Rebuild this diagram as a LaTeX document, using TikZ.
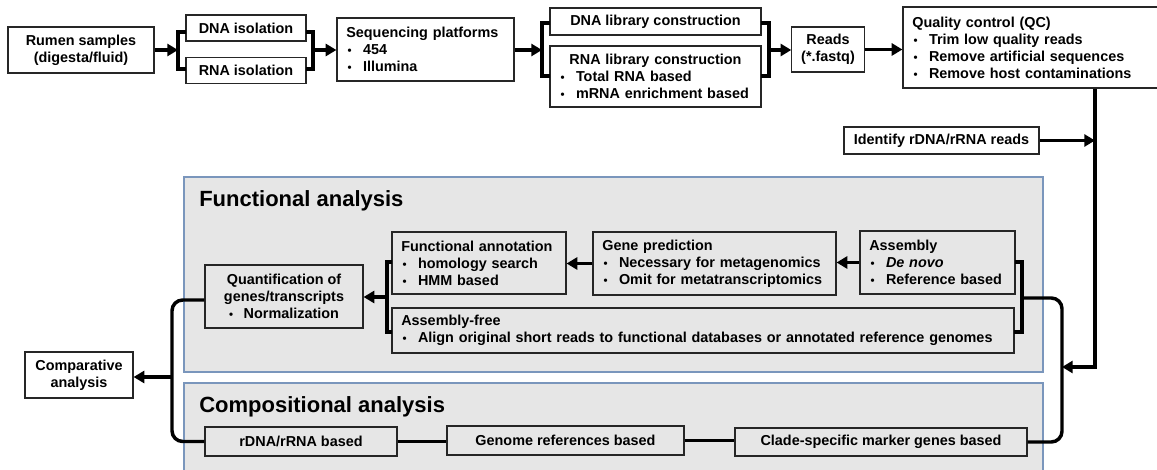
\documentclass[tikz,border=0pt]{standalone}
\usepackage{fontspec}
\setmainfont{Liberation Sans}
\usepackage{xcolor}
\usetikzlibrary{arrows.meta}
\definecolor{panelgray}{RGB}{230,230,230}
\definecolor{panelline}{RGB}{122,150,188}
\newcommand{\itm}{\makebox[12.5pt][l]{\hspace{1pt}\scalebox{0.8}{\textbullet}}}

\begin{document}
\begin{tikzpicture}[x=0.75pt,y=-0.75pt,
    txt/.style={font=\bfseries\fontsize{10.8}{12.8}\selectfont},
    box/.style={txt,draw=black!85,line width=0.9pt,inner xsep=7pt,inner ysep=2pt,align=center},
    lbox/.style={box,align=left,text width=#1},
    panel/.style={draw=panelline,fill=panelgray,line width=0.9pt},
    ptitle/.style={anchor=west,inner sep=0pt,font=\bfseries\fontsize{16.5}{19}\selectfont},
    conn/.style={line width=2.6pt},
    arr/.style={conn,-{Triangle[length=8pt,width=9pt]}},
    brk/.style={line width=2.6pt}]
    \useasboundingbox (0,0) rectangle (1157,470);
    \draw[panel] (184,177) rectangle (1043,372);
    \draw[panel] (184,383) rectangle (1043,480);
    \node[ptitle] (functitle) at (199,201) {Functional analysis};
    \node[ptitle] (comptitle) at (199,407) {Compositional analysis};

    \node[box,minimum width=109.5pt,minimum height=34.5pt] (rumen) at (81,50) {Rumen samples\\(digesta/fluid)};
    \node[box,minimum width=90pt,minimum height=19.5pt] (dnaiso) at (246,28) {DNA isolation};
    \node[box,minimum width=90pt,minimum height=20pt] (rnaiso) at (246,70.5) {RNA isolation};
    \node[lbox=118.75pt,minimum height=47.25pt] (seq) at (425.5,49.5) {Sequencing platforms\\\itm 454\\\itm Illumina};
    \node[box,minimum width=158.25pt,minimum height=20.25pt] (dnalib) at (655.5,21.5) {DNA library construction};
    \node[lbox=144.25pt,minimum height=45.75pt] (rnalib) at (655.5,76.5) {\makebox[\linewidth]{RNA library construction}\\\itm Total RNA based\\\itm mRNA enrichment based};
    \node[box,minimum width=51pt,minimum height=33.75pt] (reads) at (828,49.5) {Reads\\(*.fastq)};
    \node[lbox=186.25pt,minimum height=60.75pt] (qc) at (1036.5,47.5) {Quality control (QC)\\\itm Trim low quality reads\\\itm Remove artificial sequences\\\itm Remove host contaminations};
    \node[box,minimum width=146.25pt,minimum height=20.25pt] (ident) at (941.5,140.5) {Identify rDNA/rRNA reads};

    \node[box,minimum width=118.5pt,minimum height=47.25pt] (quant) at (284,296.5) {Quantification of\\genes/transcripts\\\scalebox{0.8}{\textbullet}\hspace{8pt}Normalization};
    \node[lbox=116.5pt,minimum height=46.5pt] (funcann) at (479,263) {Functional annotation\\\itm homology search\\\itm HMM based};
    \node[lbox=168.25pt,minimum height=47.25pt] (genepred) at (714.5,263.5) {Gene prediction\\\itm Necessary for metagenomics\\\itm Omit for metatranscriptomics};
    \node[lbox=102.25pt,minimum height=47.25pt] (asm) at (937.5,262.5) {Assembly\\\itm\textit{De novo}\\\itm Reference based};
    \node[lbox=452.5pt,minimum height=33.75pt] (asmfree) at (703,330.5) {Assembly-free\\\itm Align original short reads to functional databases or annotated reference genomes};
    \node[box,minimum width=81pt,minimum height=34.5pt] (comp) at (79,375) {Comparative\\analysis};
    \node[box,minimum width=144pt,minimum height=21.75pt] (rdna) at (301,441.5) {rDNA/rRNA based};
    \node[box,minimum width=177.75pt,minimum height=21.75pt] (genome) at (565.5,440.5) {Genome references based};
    \node[box,minimum width=219pt,minimum height=21pt] (clade) at (881,442) {Clade-specific marker genes based};

    \coordinate (B1) at (178,50);
    \coordinate (B2) at (313,50);
    \coordinate (B3) at (542,50);
    \coordinate (B4) at (769,50);
    \coordinate (B5) at (387,297);
    \coordinate (B6) at (1022,298);
    \coordinate (J1) at (1062,367);
    \coordinate (J2) at (1095,367);
    \coordinate (J3) at (1062,298);
    \coordinate (C1) at (172,377);
    \coordinate (C2) at (172,300);

    \draw[brk] (186,32) -- (178,32) -- (178,69) -- (186,69);
    \draw[brk] (306,32) -- (313,32) -- (313,69) -- (306,69);
    \draw[brk] (550,23) -- (542,23) -- (542,76) -- (550,76);
    \draw[brk] (761,23) -- (769,23) -- (769,76) -- (761,76);
    \draw[brk] (392,262) -- (387,262) -- (387,332) -- (392,332);
    \draw[brk] (1015,262) -- (1022,262) -- (1022,332) -- (1014,332);

    \draw[arr] (rumen.east |- B1) -- (B1);
    \draw[arr] (B2) -- (B2 -| seq.west);
    \draw[arr] (seq.east |- B3) -- (B3);
    \draw[arr] (B4) -- (B4 -| reads.west);
    \draw[arr] (reads.east) -- (reads.east -| qc.west);
    \draw[arr] (qc.south -| J2) -- (J2) -- (J1);
    \draw[arr] (ident.east) -- (ident.east -| J2);
    \draw[arr] (asm.west) -- (asm.west -| genepred.east);
    \draw[arr] (genepred.west) -- (genepred.west -| funcann.east);
    \draw[arr] (B5) -- (B5 -| quant.east);
    \draw[conn,rounded corners=8pt] (B6) -- (J3) -- (J3 |- clade.east) -- (clade.east);
    \draw[conn,rounded corners=8pt] (quant.west |- C2) -- (C2) -- (C2 |- rdna.west) -- (rdna.west);
    \draw[arr] (C1) -- (C1 -| comp.east);
    \draw[conn] (rdna.east) -- (rdna.east -| genome.west);
    \draw[conn] (genome.east) -- (genome.east -| clade.west);
\end{tikzpicture}
\end{document}
